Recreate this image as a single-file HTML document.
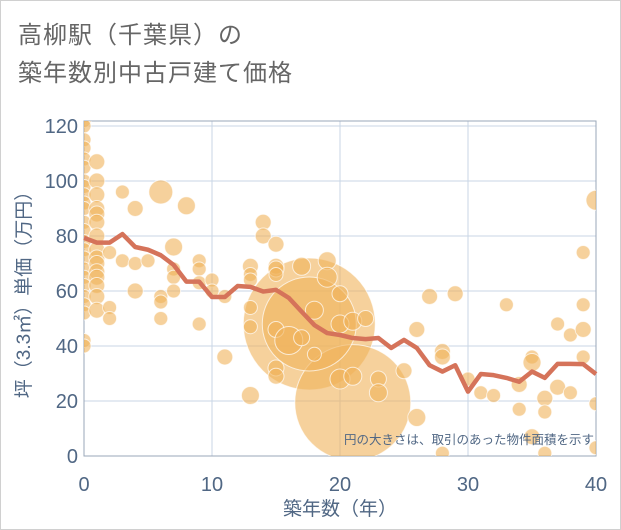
<!DOCTYPE html>
<html><head><meta charset="utf-8"><style>
body{margin:0;background:#fff;}
#wrap{position:relative;width:619px;height:528px;border:1px solid #d0d0d0;background:#fff;font-family:"Liberation Sans","Noto Sans CJK JP",sans-serif;}
.t{position:absolute;left:17px;color:#666;font-size:24px;letter-spacing:1px;}
</style></head><body>
<div id="wrap">
<div class="t" style="top:14px">高柳駅（千葉県）の</div>
<div class="t" style="top:52px">築年数別中古戸建て価格</div>
<svg id="c" width="621" height="530" style="position:absolute;left:-1px;top:-1px"><defs><clipPath id="pc"><rect x="84" y="121" width="512" height="335"/></clipPath></defs></svg>
</div>
<script>
const xTicks=[0,10,20,30,40];
const yTicks=[0,20,40,60,80,100,120];
const lineYears=[0,1,2,3,4,5,6,7,8,9,10,11,12,13,14,15,16,17,18,19,20,21,22,23,24,25,26,27,28,29,30,31,32,33,34,35,36,37,38,39,40];
const lineValues=[79.3,77.6,77.6,80.7,76,75,73,69.5,63.4,63.4,57.8,57.8,61.8,61.5,59.8,60.4,57.5,52.5,47.6,44.7,44,42.9,42.5,42.9,39.3,42.2,39.3,33,30.7,33,23.4,29.8,29.4,28.4,27,30.7,28.4,33.5,33.5,33.4,29.8];
const bubbleYears=[17.6,21,17.6,0,0,0,0,0,0,0,0,0,0,0,0,0,0,0,0,0,0,0,0,0,0,0,0,1,1,1,1,1,1,1,1,1,1,1,1,1,1,1,2,2,2,3,3,4,4,4,5,6,6,6,6,7,7,7,7,8,9,9,9,9,10,10,11,11,13,13,13,13,13,13,14,14,15,15,15,15,15,15,15,16,17,17,18,18,19,19,20,20,20,21,21,22,23,23,25,26,26,27,28,28,28,29,30,31,32,33,34,34,35,35,35,36,36,36,37,37,38,38,39,39,39,39,40,40,40];
const bubbleValues=[48,19.4,48,122,120,115,112,108,105,100,98,95,92,90,85,82,78,75,72,68,65,62,58,55,52,42,40,107,100,95,90,88,85,80,75,72,70,67,65,62,58,53,74,54,50,96,71,90,70,60,71,96,58,56,50,76,68,65,60,91,71,68,48,63,64,60,58,36,69,66,64,54,47,22,85,80,77,69,68,66,46,32,29,42,69,43,53,37,71,65,59,48,28,49,29,50,28,23,31,46,14,58,38,36,1,59,28,23,22,55,26,17,36,34,7,21,16,1,48,25,44,23,74,55,46,36,93,19,3];
const bubbleSizes=[66,58,47,7,7,7,7,7,7,7,7,7,7,7,7,7,7,7,7,7,7,7,7,7,7,7,7,8,8,8,8,8,8,8,8,8,8,8,8,8,8,8,7,7,7,7,7,8,7,8,7,12,7,7,7,9,7,7,7,9,7,7,7,7,7,7,7,8,8,7,7,7,7,9,8,8,8,8,8,7,8,8,8,14,9,8,9,7,9,10,8,9,10,9,9,8,8,9,8,8,9,8,8,8,7,8,7,7,7,7,8,7,7,9,8,8,7,7,7,8,7,7,7,7,8,7,10,7,7];
const L=84,R=596,T=121,B=456;
const sx=v=>L+(v-0)/40*(R-L);
const sy=v=>B-(v/120)*(B-126);
const svg=document.getElementById('c');const NS='http://www.w3.org/2000/svg';
function mk(t,a,p){const e=document.createElementNS(NS,t);for(const k in a)e.setAttribute(k,a[k]);(p||svg).appendChild(e);return e;}
const g=mk('g',{});
xTicks.forEach(v=>{const l=mk('line',{x1:sx(v),x2:sx(v),y1:T,y2:B,stroke:'#c9d5e6','stroke-width':1},g);
const t=mk('text',{x:sx(v),y:491,'text-anchor':'middle','font-size':20,fill:'#506784'});t.textContent=v;});
yTicks.forEach(v=>{const l=mk('line',{x1:L,x2:R,y1:sy(v),y2:sy(v),stroke:'#c9d5e6','stroke-width':1},g);
const t=mk('text',{x:78,y:sy(v)+7,'text-anchor':'end','font-size':20,fill:'#506784'});t.textContent=v;});
const fr=mk('rect',{x:L,y:T,width:R-L,height:B-T,fill:'none',stroke:'#9aa7b8','stroke-width':1});
const bg=mk('g',{'clip-path':'url(#pc)'});
bubbleYears.forEach((x,i)=>{const c=mk('circle',{cx:sx(x),cy:sy(bubbleValues[i]),r:bubbleSizes[i],fill:'rgba(240,178,90,0.6)',stroke:'rgba(255,255,255,0.7)','stroke-width':1},bg);});
const p=mk('polyline',{points:lineYears.map((x,i)=>sx(x)+','+sy(lineValues[i])).join(' '),fill:'none',stroke:'#d5735a','stroke-width':4.5,'stroke-linejoin':'round'});
const n=mk('text',{x:594,y:444,'text-anchor':'end','font-size':12.5,fill:'#506784'});n.textContent='円の大きさは、取引のあった物件面積を示す';
const xt=mk('text',{x:340,y:515,'text-anchor':'middle','font-size':19,fill:'#506784'});xt.textContent='築年数（年）';
const yt=mk('text',{x:0,y:0,'text-anchor':'middle','font-size':19,fill:'#506784',transform:'translate(30,290) rotate(-90)'});yt.textContent='坪（3.3㎡）単価（万円）';
</script>
</body></html>
